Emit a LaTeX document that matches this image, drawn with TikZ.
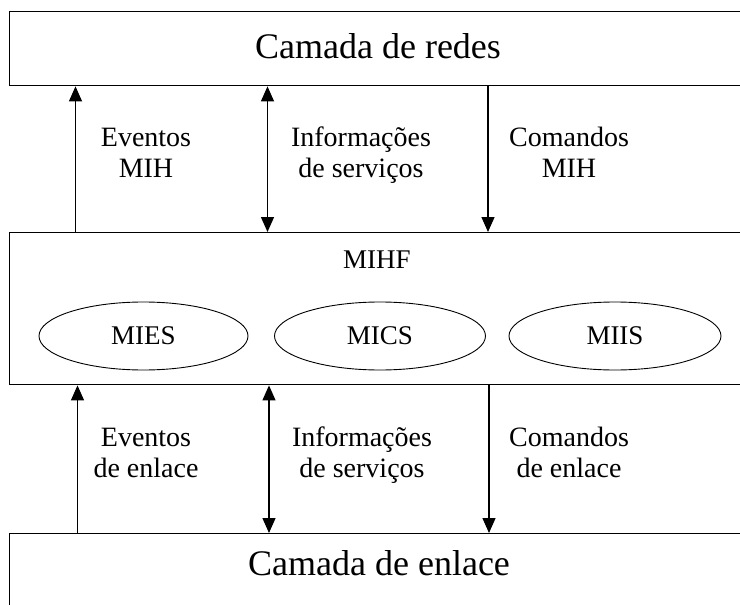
\documentclass[tikz,border=0pt]{standalone}
\usepackage{fontspec}
\setmainfont{Liberation Serif}
\usetikzlibrary{arrows.meta,shapes.geometric}
\begin{document}
\begin{tikzpicture}[x=1pt,y=-1pt,
  layer/.style={draw, line width=1.4pt, rectangle, inner sep=0pt, anchor=north west, minimum width=745pt},
  svc/.style={draw, ellipse, line width=0.9pt, minimum height=68pt, inner sep=0pt, font=\fontsize{27}{31}\selectfont},
  lbl/.style={align=center, font=\fontsize{28}{31}\selectfont, inner sep=0pt, anchor=base},
  big/.style={font=\fontsize{36}{40}\selectfont, inner sep=0pt, anchor=base},
  tip/.tip={Triangle[length=15pt,width=13pt]},
  flow/.style={line width=1.3pt, -tip},
  flowtwo/.style={line width=1.3pt, tip-tip}
]
\useasboundingbox (0,0) rectangle (740,605);
\fill[white] (0,0) rectangle (740,605);
\clip (0,0) rectangle (740,605);
% layers
\node[layer, minimum height=74pt] (net) at (8.5,11) {};
\node[layer, minimum height=152pt] (mihf) at (8.5,232) {};
\node[layer, minimum height=100pt] (link) at (9,533) {};
% texts
\node[big] (tnet) at (378,58) {Camada de redes};
\node[big] (tlink) at (379,575) {Camada de enlace};
\node[font=\fontsize{27}{31}\selectfont, inner sep=0pt, anchor=base] (tmihf) at (377,268) {MIHF};
% services
\node[svc, minimum width=209pt] (mies) at (143.5,336) {MIES};
\node[svc, minimum width=211pt] (mics) at (380,336) {MICS};
\node[svc, minimum width=212pt] (miis) at (615,336) {MIIS};
% labels (base = baseline of the last line)
\node[lbl] (l1) at (146,177) {Eventos\\MIH};
\node[lbl] (l2) at (361,177) {Informações\\de serviços};
\node[lbl] (l3) at (569,177) {Comandos\\MIH};
\node[lbl] (l4) at (146,477) {Eventos\\de enlace};
\node[lbl] (l5) at (362,477) {Informações\\de serviços};
\node[lbl] (l6) at (569,477) {Comandos\\de enlace};
% arrow x positions
\coordinate (ua) at (75.5,0);
\coordinate (ub) at (267.5,0);
\coordinate (uc) at (488,0);
\coordinate (la) at (77.5,0);
\coordinate (lb) at (269,0);
\coordinate (lc) at (489,0);
% upper arrows
\draw[flow] (mihf.north -| ua) -- (net.south -| ua);
\draw[flowtwo] (mihf.north -| ub) -- (net.south -| ub);
\draw[flow] (net.south -| uc) -- (mihf.north -| uc);
% lower arrows
\draw[flow] (link.north -| la) -- (mihf.south -| la);
\draw[flowtwo] (link.north -| lb) -- (mihf.south -| lb);
\draw[flow] (mihf.south -| lc) -- (link.north -| lc);
\end{tikzpicture}
\end{document}
